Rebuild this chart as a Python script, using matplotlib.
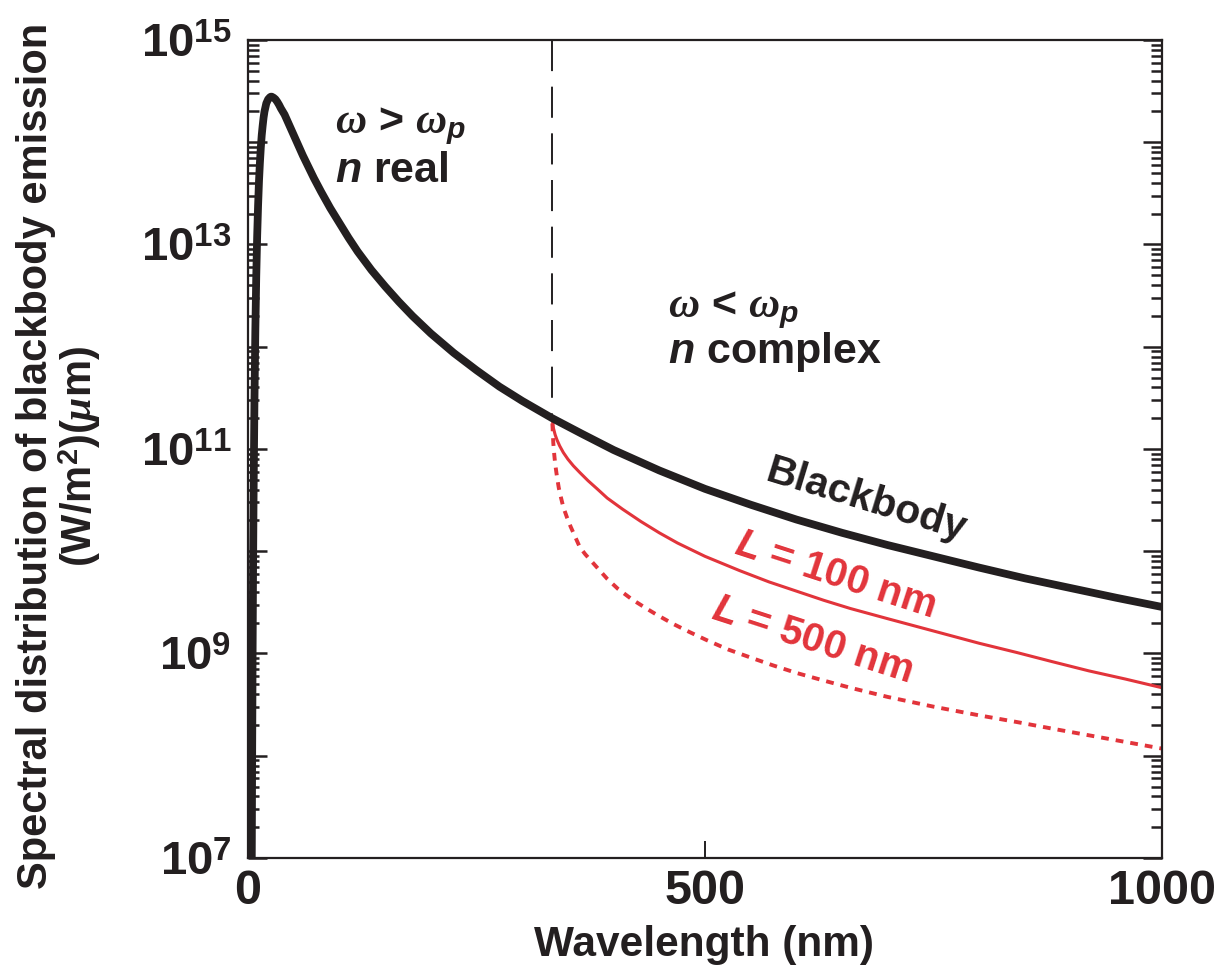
import numpy as np
import matplotlib.pyplot as plt

plt.rcParams['font.family'] = 'Liberation Sans'
plt.rcParams['font.weight'] = 'bold'
plt.rcParams['mathtext.fontset'] = 'custom'
plt.rcParams['mathtext.rm'] = 'Liberation Sans:bold'
plt.rcParams['mathtext.it'] = 'Liberation Serif:italic'
plt.rcParams['mathtext.bf'] = 'Liberation Sans:italic:bold'

INK = '#231f20'
RED = '#e2343b'

# blackbody curve (wavelength nm, log10 of emission)
bb_wl = [4.1, 4.5, 5.0, 5.5, 6, 7, 8, 9, 10, 11, 12, 13, 14, 15, 16, 17, 18,
         19, 20, 21, 22, 23, 24, 25, 26, 27, 28, 30, 32, 34, 36, 40, 45, 50,
         55, 60, 66, 72, 80, 90, 100, 110, 120, 135, 150, 165, 180, 200, 225,
         250, 275, 300, 333, 365, 400, 450, 500, 550, 600, 650, 700, 750, 800,
         850, 900, 950, 1000]
bb_log = [7.0, 7.96, 8.98, 9.80, 10.46, 11.45, 12.16, 12.69, 13.08, 13.38,
          13.62, 13.80, 13.95, 14.07, 14.16, 14.24, 14.30, 14.34, 14.38, 14.40,
          14.42, 14.43, 14.44, 14.445, 14.445, 14.44, 14.435, 14.42, 14.395,
          14.365, 14.33, 14.27, 14.17, 14.07, 13.97, 13.87, 13.76, 13.65,
          13.515, 13.355, 13.21, 13.065, 12.93, 12.75, 12.59, 12.44, 12.30,
          12.13, 11.94, 11.77, 11.61, 11.47, 11.30, 11.15, 10.99, 10.79, 10.61,
          10.455, 10.31, 10.18, 10.06, 9.95, 9.84, 9.735, 9.64, 9.545, 9.455]

# L = 100 nm film
l100_wl = [333, 334, 336, 338, 341, 345, 350, 356, 363, 372, 382, 393, 410,
           430, 450, 470, 500, 538, 570, 600, 630, 659, 700, 750, 800, 841,
           880, 920, 960, 1000]
l100_log = [11.28, 11.21, 11.14, 11.09, 11.03, 10.965, 10.90, 10.835, 10.77,
            10.69, 10.61, 10.52, 10.41, 10.29, 10.18, 10.08, 9.95, 9.81, 9.70,
            9.61, 9.52, 9.44, 9.34, 9.22, 9.10, 9.01, 8.92, 8.83, 8.75, 8.665]

# L = 500 nm film
l500_wl = [333, 334, 335, 336, 338, 340, 342, 345, 349, 353, 358, 363, 369,
           376, 384, 393, 405, 420, 435, 447, 465, 483, 502, 525, 550, 574,
           600, 630, 659, 700, 750, 800, 841, 880, 920, 960, 1000]
l500_log = [11.25, 11.06, 10.95, 10.86, 10.73, 10.62, 10.54, 10.43, 10.33,
            10.24, 10.14, 10.04, 9.97, 9.90, 9.82, 9.73, 9.63, 9.53, 9.445,
            9.38, 9.29, 9.21, 9.13, 9.04, 8.96, 8.885, 8.81, 8.735, 8.665,
            8.575, 8.48, 8.395, 8.33, 8.265, 8.20, 8.135, 8.07]

plasma_wl = 333
decades = list(range(7, 16))


def main():
    fig = plt.figure(figsize=(12.17, 9.77), dpi=100)
    ax = fig.add_axes([0.2038, 0.1218, 0.7510, 0.8373])

    ax.plot(l500_wl, 10 ** np.array(l500_log), color=RED, lw=2.8,
            ls=(0, (2.0, 1.8)))
    ax.plot(l100_wl, 10 ** np.array(l100_log), color=RED, lw=2.2)
    ax.plot(bb_wl, 10 ** np.array(bb_log), color=INK, lw=5.6,
            solid_capstyle='butt', solid_joinstyle='round')

    y_cross = 10 ** bb_log[bb_wl.index(plasma_wl)]
    ax.plot([plasma_wl, plasma_wl], [1e15, y_cross], color=INK, lw=1.4,
            ls=(0, (16, 8)))

    ax.set_yscale('log')
    ax.set_xlim(0, 1000)
    ax.set_ylim(1e7, 1e15)

    ax.set_yticks([10.0 ** d for d in decades])
    ax.set_yticklabels(['$10^{%d}$' % d if d % 2 else '' for d in decades])
    ax.yaxis.set_minor_locator(plt.LogLocator(base=10, subs=range(2, 10),
                                              numticks=20))
    ax.yaxis.set_minor_formatter(plt.NullFormatter())
    ax.set_xticks([0, 500, 1000])
    ax.set_xticklabels(['0', '500', '1000'])

    ax.tick_params(axis='y', which='major', direction='in', left=True,
                   right=True, length=14, width=1.8, labelsize=34, pad=12,
                   colors=INK)
    ax.tick_params(axis='y', which='minor', direction='in', left=True,
                   right=True, length=8, width=1.8, colors=INK)
    ax.tick_params(axis='x', direction='in', length=12, width=1.4,
                   labelsize=35, pad=8, colors=INK, top=False)
    for s in ax.spines.values():
        s.set_linewidth(1.6)
        s.set_color(INK)

    fig.text(0.049, 0.533,
             'Spectral distribution of blackbody emission\n(W/m$^2$)($\\mu$m)',
             rotation=90, ha='center', va='center', fontsize=30,
             linespacing=1.0, color=INK)
    fig.text(0.5785, 0.033, 'Wavelength (nm)', ha='center', va='center',
             fontsize=30.5, color=INK)

    ax.text(95, 10 ** 14.09, r'$\omega$ > $\omega_{\mathbf{p}}$',
            fontsize=31, color=INK, va='baseline')
    ax.text(95, 10 ** 13.61, r'$\mathbf{n}$ real', fontsize=31, color=INK,
            va='baseline')
    ax.text(459, 10 ** 12.29, r'$\omega$ < $\omega_{\mathbf{p}}$',
            fontsize=31, color=INK, va='baseline')
    ax.text(459, 10 ** 11.84, r'$\mathbf{n}$ complex', fontsize=31,
            color=INK, va='baseline')

    ax.text(676, 10 ** 10.50, 'Blackbody', fontsize=29.5, color=INK,
            rotation=-17, rotation_mode='anchor', ha='center', va='center')
    ax.text(642, 10 ** 9.77, r'$\mathbf{L}$ = 100 nm', fontsize=29,
            color=RED, rotation=-18, rotation_mode='anchor', ha='center',
            va='center')
    ax.text(617, 10 ** 9.13, r'$\mathbf{L}$ = 500 nm', fontsize=29,
            color=RED, rotation=-18, rotation_mode='anchor', ha='center',
            va='center')

    fig.savefig('out.png', dpi=100)


if __name__ == "__main__":
    main()
